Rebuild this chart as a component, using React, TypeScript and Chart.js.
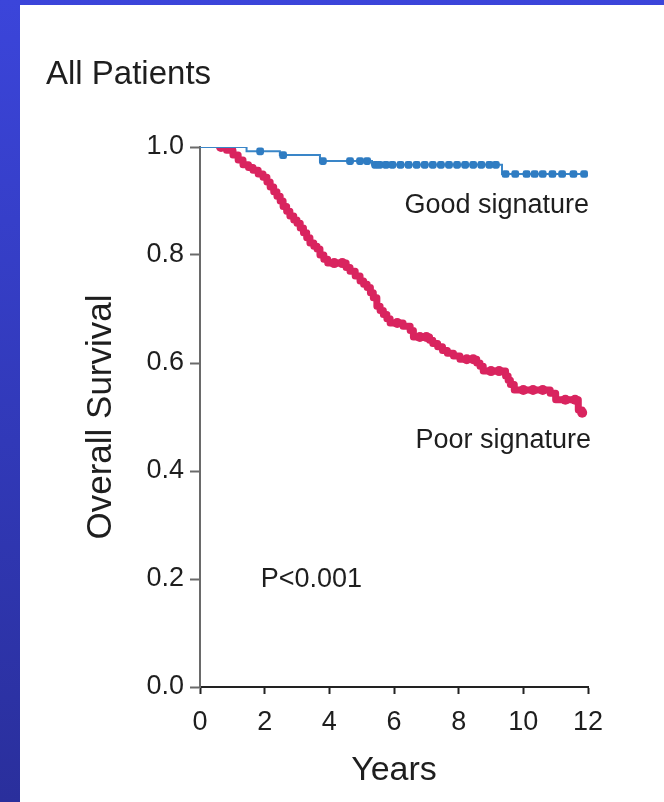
import React, { useEffect, useRef } from "react";
import { Chart, registerables } from "chart.js";

Chart.register(...registerables);

const FONT = "'Liberation Sans', Arial, Helvetica, sans-serif";
const TEXT = "#1e1e1e";
const GOOD_COLOR = "#3a86c8";
const POOR_COLOR = "#d9245f";

const TITLE = "All Patients";
const X_TITLE = "Years";
const Y_TITLE = "Overall Survival";
const GOOD_LABEL = "Good signature";
const POOR_LABEL = "Poor signature";
const P_LABEL = "P<0.001";

const X_TICKS = [0, 2, 4, 6, 8, 10, 12];
const Y_TICKS = [0, 0.2, 0.4, 0.6, 0.8, 1.0];

// Good-signature group: follow-up (years), Kaplan-Meier survival, censor flag
const goodYears = [0, 1.44, 1.86, 2.47, 2.57, 3.71, 3.8, 4.64, 4.95, 5.17, 5.32, 5.42, 5.55, 5.75, 5.95, 6.2, 6.45, 6.7, 6.95, 7.2, 7.45, 7.7, 7.95, 8.2, 8.45, 8.7, 8.95, 9.15, 9.34, 9.45, 9.75, 10.1, 10.35, 10.6, 10.9, 11.2, 11.55, 11.88];
const goodSurvival = [1.0, 0.992, 0.992, 0.985, 0.985, 0.974, 0.974, 0.974, 0.974, 0.974, 0.967, 0.967, 0.967, 0.967, 0.967, 0.967, 0.967, 0.967, 0.967, 0.967, 0.967, 0.967, 0.967, 0.967, 0.967, 0.967, 0.967, 0.967, 0.95, 0.95, 0.95, 0.95, 0.95, 0.95, 0.95, 0.95, 0.95, 0.95];
const goodCensored = [0, 0, 1, 0, 1, 0, 1, 1, 1, 1, 0, 1, 1, 1, 1, 1, 1, 1, 1, 1, 1, 1, 1, 1, 1, 1, 1, 1, 0, 1, 1, 1, 1, 1, 1, 1, 1, 1];

// Poor-signature group
const poorYears = [0, 0.65, 0.82, 1.02, 1.18, 1.33, 1.5, 1.64, 1.8, 1.95, 2.07, 2.17, 2.28, 2.38, 2.48, 2.57, 2.68, 2.78, 2.9, 3.0, 3.1, 3.2, 3.3, 3.4, 3.52, 3.62, 3.71, 3.83, 3.95, 4.15, 4.4, 4.52, 4.64, 4.8, 4.95, 5.06, 5.17, 5.27, 5.36, 5.47, 5.57, 5.67, 5.78, 5.88, 6.1, 6.28, 6.5, 6.6, 6.8, 7.0, 7.1, 7.2, 7.35, 7.5, 7.65, 7.84, 8.04, 8.25, 8.45, 8.56, 8.66, 8.76, 9.0, 9.25, 9.45, 9.53, 9.6, 9.72, 10.0, 10.3, 10.6, 10.83, 11.0, 11.3, 11.6, 11.7, 11.82];
const poorSurvival = [1.0, 1.0, 0.994, 0.985, 0.976, 0.967, 0.962, 0.957, 0.95, 0.944, 0.935, 0.926, 0.917, 0.909, 0.9, 0.89, 0.881, 0.872, 0.865, 0.859, 0.85, 0.841, 0.832, 0.822, 0.816, 0.811, 0.8, 0.792, 0.785, 0.785, 0.785, 0.777, 0.77, 0.761, 0.752, 0.746, 0.74, 0.73, 0.721, 0.705, 0.697, 0.69, 0.682, 0.674, 0.674, 0.668, 0.66, 0.648, 0.648, 0.648, 0.642, 0.636, 0.63, 0.623, 0.618, 0.613, 0.607, 0.607, 0.607, 0.6, 0.594, 0.585, 0.585, 0.585, 0.576, 0.568, 0.56, 0.55, 0.55, 0.55, 0.55, 0.544, 0.532, 0.532, 0.532, 0.513, 0.508];
const poorCensored = [0, 1, 0, 0, 0, 0, 0, 0, 0, 0, 0, 0, 0, 0, 0, 0, 0, 0, 0, 0, 0, 0, 0, 0, 0, 0, 0, 0, 0, 1, 1, 0, 0, 0, 0, 0, 0, 0, 0, 0, 0, 0, 0, 0, 1, 0, 0, 0, 1, 1, 0, 0, 0, 0, 0, 0, 0, 1, 1, 0, 0, 0, 1, 1, 0, 0, 0, 0, 1, 1, 1, 0, 0, 1, 1, 0, 1];

const toPoints = (xs: number[], ys: number[]) => xs.map((x, i) => ({ x, y: ys[i] }));

// Title and in-plot annotations
const annotationPlugin = {
  id: "kmAnnotations",
  afterDatasetsDraw(chart: any) {
    const { ctx } = chart;
    const x = chart.scales.x;
    const y = chart.scales.y;
    ctx.save();
    ctx.fillStyle = TEXT;
    ctx.textBaseline = "alphabetic";

    ctx.font = `33px ${FONT}`;
    ctx.textAlign = "left";
    ctx.fillText(TITLE, 46, 84);

    ctx.font = `27px ${FONT}`;
    ctx.textAlign = "right";
    ctx.fillText(GOOD_LABEL, x.getPixelForValue(12) + 1, y.getPixelForValue(0.878));
    ctx.fillText(POOR_LABEL, x.getPixelForValue(12) + 3, y.getPixelForValue(0.442));

    ctx.textAlign = "left";
    ctx.fillText(P_LABEL, x.getPixelForValue(1.88), y.getPixelForValue(0.185));
    ctx.restore();
  },
};

export default function App() {
  const canvasRef = useRef<HTMLCanvasElement | null>(null);

  useEffect(() => {
    const canvas = canvasRef.current;
    if (!canvas) return;

    const chart = new Chart(canvas, {
      type: "line",
      data: {
        datasets: [
          {
            label: GOOD_LABEL,
            data: toPoints(goodYears, goodSurvival),
            stepped: true,
            borderColor: GOOD_COLOR,
            borderWidth: 2,
            pointStyle: "rectRounded",
            pointRadius: (c: any) => (goodCensored[c.dataIndex] ? 4.5 : 0),
            pointBackgroundColor: "#2f7cc2",
            pointBorderWidth: 0,
            fill: false,
          },
          {
            label: POOR_LABEL,
            data: toPoints(poorYears, poorSurvival),
            stepped: true,
            borderColor: POOR_COLOR,
            borderWidth: 7,
            borderJoinStyle: "round",
            borderCapStyle: "round",
            segment: {
              borderWidth: (c: any) => (poorYears[c.p0DataIndex] < 0.6 ? 2 : 7),
            },
            pointStyle: "circle",
            pointRadius: (c: any) => (poorCensored[c.dataIndex] ? 5 : 0),
            pointBackgroundColor: POOR_COLOR,
            pointBorderWidth: 0,
            fill: false,
          },
        ],
      },
      options: {
        responsive: false,
        animation: false,
        devicePixelRatio: 1,
        layout: { padding: { top: 147, right: 76, bottom: 0, left: 0 } },
        plugins: {
          legend: { display: false },
          tooltip: { enabled: false },
          title: { display: false },
        },
        scales: {
          x: {
            type: "linear",
            min: 0,
            max: 12,
            afterFit: (s: any) => {
              s.height = 115;
            },
            afterBuildTicks: (s: any) => {
              s.ticks = X_TICKS.map((v) => ({ value: v }));
            },
            border: { display: true, color: "#222", width: 2 },
            grid: {
              drawOnChartArea: false,
              drawTicks: true,
              tickLength: 7,
              tickWidth: 2,
              tickColor: "#222",
            },
            ticks: {
              padding: 12,
              color: TEXT,
              font: { family: FONT, size: 27 },
              maxRotation: 0,
              callback: (v: any) => String(v),
            },
            title: {
              display: true,
              text: X_TITLE,
              color: TEXT,
              font: { family: FONT, size: 34 },
              padding: { top: 0, bottom: 11 },
            },
          },
          y: {
            type: "linear",
            min: 0,
            max: 1,
            afterFit: (s: any) => {
              s.width = 200;
            },
            afterBuildTicks: (s: any) => {
              s.ticks = Y_TICKS.map((v) => ({ value: v }));
            },
            border: { display: true, color: "#6a6a6a", width: 2 },
            grid: {
              drawOnChartArea: false,
              drawTicks: true,
              tickLength: 10,
              tickWidth: 2,
              tickColor: "#6a6a6a",
            },
            ticks: {
              padding: 6,
              color: TEXT,
              font: { family: FONT, size: 27 },
              callback: (v: any) => Number(v).toFixed(1),
            },
            title: {
              display: true,
              text: Y_TITLE,
              color: TEXT,
              font: { family: FONT, size: 35 },
              padding: { top: 80, bottom: 0 },
            },
          },
        },
      },
      plugins: [annotationPlugin],
    });

    return () => chart.destroy();
  }, []);

  return (
    <div
      style={{
        position: "fixed",
        left: 0,
        top: 0,
        width: 664,
        height: 802,
        background: "linear-gradient(180deg, #3b45da 0%, #3139b8 55%, #2a2f9c 100%)",
        overflow: "hidden",
      }}
    >
      <div
        style={{
          position: "absolute",
          left: 20,
          top: 5,
          right: 0,
          bottom: 0,
          background: "#ffffff",
        }}
      />
      <canvas
        ref={canvasRef}
        width={664}
        height={802}
        style={{ position: "absolute", left: 0, top: 0, width: 664, height: 802 }}
      />
    </div>
  );
}
